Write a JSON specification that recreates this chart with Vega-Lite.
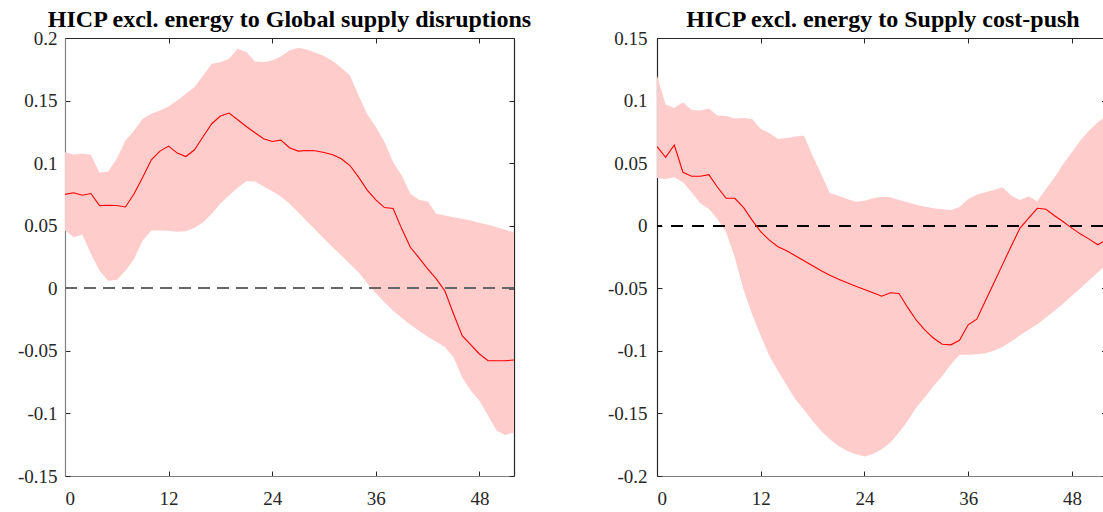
{
  "$schema": "https://vega.github.io/schema/vega-lite/v6.json",
  "autosize": {"type": "pad"},
  "padding": {"left": 17, "top": 8, "right": 0, "bottom": 0},
  "background": "white",
  "config": {
    "font": "Liberation Serif",
    "view": {"stroke": null},
    "axis": {
      "grid": false,
      "labelFont": "Liberation Serif",
      "labelFontSize": 19,
      "labelColor": "#262626",
      "tickColor": "#262626",
      "tickSize": -5,
      "tickWidth": 1,
      "domainWidth": 1.2
    }
  },
  "datasets": {
    "gsd": [
      {"t": 0, "med": 0.075, "lo": 0.0461, "hi": 0.1088},
      {"t": 1, "med": 0.0763, "lo": 0.0408, "hi": 0.1069},
      {"t": 2, "med": 0.0744, "lo": 0.0429, "hi": 0.1075},
      {"t": 3, "med": 0.0757, "lo": 0.0275, "hi": 0.1067},
      {"t": 4, "med": 0.0661, "lo": 0.0141, "hi": 0.0923},
      {"t": 5, "med": 0.0664, "lo": 0.0061, "hi": 0.0933},
      {"t": 6, "med": 0.0661, "lo": 0.0067, "hi": 0.1035},
      {"t": 7, "med": 0.065, "lo": 0.0141, "hi": 0.1181},
      {"t": 8, "med": 0.0755, "lo": 0.0235, "hi": 0.1261},
      {"t": 9, "med": 0.0888, "lo": 0.0381, "hi": 0.1355},
      {"t": 10, "med": 0.1027, "lo": 0.0461, "hi": 0.1395},
      {"t": 11, "med": 0.1096, "lo": 0.0461, "hi": 0.1421},
      {"t": 12, "med": 0.1136, "lo": 0.0459, "hi": 0.1453},
      {"t": 13, "med": 0.108, "lo": 0.0451, "hi": 0.1501},
      {"t": 14, "med": 0.1053, "lo": 0.0456, "hi": 0.1555},
      {"t": 15, "med": 0.1107, "lo": 0.0483, "hi": 0.1608},
      {"t": 16, "med": 0.1213, "lo": 0.0528, "hi": 0.1701},
      {"t": 17, "med": 0.1315, "lo": 0.0595, "hi": 0.1795},
      {"t": 18, "med": 0.1376, "lo": 0.0678, "hi": 0.1806},
      {"t": 19, "med": 0.14, "lo": 0.0741, "hi": 0.1835},
      {"t": 20, "med": 0.1347, "lo": 0.0803, "hi": 0.1915},
      {"t": 21, "med": 0.1293, "lo": 0.0856, "hi": 0.1888},
      {"t": 22, "med": 0.1243, "lo": 0.0853, "hi": 0.1813},
      {"t": 23, "med": 0.1195, "lo": 0.0813, "hi": 0.1808},
      {"t": 24, "med": 0.1173, "lo": 0.0776, "hi": 0.1821},
      {"t": 25, "med": 0.1184, "lo": 0.0733, "hi": 0.1853},
      {"t": 26, "med": 0.1123, "lo": 0.0675, "hi": 0.1901},
      {"t": 27, "med": 0.1096, "lo": 0.0608, "hi": 0.1923},
      {"t": 28, "med": 0.1101, "lo": 0.0536, "hi": 0.1909},
      {"t": 29, "med": 0.1099, "lo": 0.0467, "hi": 0.1883},
      {"t": 30, "med": 0.1085, "lo": 0.0395, "hi": 0.1856},
      {"t": 31, "med": 0.1067, "lo": 0.0328, "hi": 0.1816},
      {"t": 32, "med": 0.1035, "lo": 0.0261, "hi": 0.1763},
      {"t": 33, "med": 0.0981, "lo": 0.0195, "hi": 0.1701},
      {"t": 34, "med": 0.0888, "lo": 0.0128, "hi": 0.1541},
      {"t": 35, "med": 0.0785, "lo": 0.004, "hi": 0.139},
      {"t": 36, "med": 0.0707, "lo": -0.004, "hi": 0.1288},
      {"t": 37, "med": 0.0645, "lo": -0.0112, "hi": 0.1168},
      {"t": 38, "med": 0.0637, "lo": -0.0179, "hi": 0.1008},
      {"t": 39, "med": 0.0475, "lo": -0.0237, "hi": 0.0901},
      {"t": 40, "med": 0.0328, "lo": -0.0291, "hi": 0.0755},
      {"t": 41, "med": 0.0243, "lo": -0.0339, "hi": 0.0707},
      {"t": 42, "med": 0.0155, "lo": -0.0387, "hi": 0.0693},
      {"t": 43, "med": 0.0075, "lo": -0.0427, "hi": 0.0595},
      {"t": 44, "med": -0.0022, "lo": -0.0472, "hi": 0.0581},
      {"t": 45, "med": -0.0205, "lo": -0.0552, "hi": 0.0568},
      {"t": 46, "med": -0.0379, "lo": -0.0712, "hi": 0.0555},
      {"t": 47, "med": -0.0453, "lo": -0.0819, "hi": 0.0541},
      {"t": 48, "med": -0.0525, "lo": -0.0899, "hi": 0.0523},
      {"t": 49, "med": -0.0579, "lo": -0.1019, "hi": 0.0507},
      {"t": 50, "med": -0.0579, "lo": -0.1139, "hi": 0.0488},
      {"t": 51, "med": -0.0579, "lo": -0.1173, "hi": 0.0467},
      {"t": 52, "med": -0.0573, "lo": -0.1152, "hi": 0.0448}
    ],
    "scp": [
      {"t": 0, "med": 0.0632, "lo": 0.0381, "hi": 0.12},
      {"t": 1, "med": 0.0547, "lo": 0.0373, "hi": 0.0968},
      {"t": 2, "med": 0.0645, "lo": 0.0387, "hi": 0.0941},
      {"t": 3, "med": 0.0427, "lo": 0.0347, "hi": 0.0987},
      {"t": 4, "med": 0.0395, "lo": 0.0267, "hi": 0.0925},
      {"t": 5, "med": 0.0395, "lo": 0.0179, "hi": 0.092},
      {"t": 6, "med": 0.0408, "lo": 0.0133, "hi": 0.0936},
      {"t": 7, "med": 0.0307, "lo": 0.0053, "hi": 0.088},
      {"t": 8, "med": 0.0219, "lo": -0.0053, "hi": 0.0877},
      {"t": 9, "med": 0.0219, "lo": -0.0253, "hi": 0.0856},
      {"t": 10, "med": 0.0147, "lo": -0.0507, "hi": 0.0861},
      {"t": 11, "med": 0.0045, "lo": -0.0707, "hi": 0.0853},
      {"t": 12, "med": -0.0048, "lo": -0.088, "hi": 0.0773},
      {"t": 13, "med": -0.0115, "lo": -0.104, "hi": 0.0741},
      {"t": 14, "med": -0.0168, "lo": -0.116, "hi": 0.0693},
      {"t": 15, "med": -0.02, "lo": -0.1275, "hi": 0.0701},
      {"t": 16, "med": -0.024, "lo": -0.1387, "hi": 0.0712},
      {"t": 17, "med": -0.028, "lo": -0.147, "hi": 0.072},
      {"t": 18, "med": -0.032, "lo": -0.156, "hi": 0.056},
      {"t": 19, "med": -0.036, "lo": -0.164, "hi": 0.0413},
      {"t": 20, "med": -0.0395, "lo": -0.1707, "hi": 0.0259},
      {"t": 21, "med": -0.0427, "lo": -0.176, "hi": 0.024},
      {"t": 22, "med": -0.0456, "lo": -0.18, "hi": 0.0213},
      {"t": 23, "med": -0.0483, "lo": -0.1827, "hi": 0.0192},
      {"t": 24, "med": -0.0509, "lo": -0.1845, "hi": 0.02},
      {"t": 25, "med": -0.0536, "lo": -0.1825, "hi": 0.0219},
      {"t": 26, "med": -0.0563, "lo": -0.1787, "hi": 0.0232},
      {"t": 27, "med": -0.0536, "lo": -0.1733, "hi": 0.0227},
      {"t": 28, "med": -0.0541, "lo": -0.1653, "hi": 0.0205},
      {"t": 29, "med": -0.0653, "lo": -0.156, "hi": 0.0187},
      {"t": 30, "med": -0.0755, "lo": -0.1453, "hi": 0.0168},
      {"t": 31, "med": -0.0835, "lo": -0.137, "hi": 0.0152},
      {"t": 32, "med": -0.0899, "lo": -0.128, "hi": 0.0139},
      {"t": 33, "med": -0.0947, "lo": -0.12, "hi": 0.0131},
      {"t": 34, "med": -0.0952, "lo": -0.111, "hi": 0.0125},
      {"t": 35, "med": -0.0915, "lo": -0.1032, "hi": 0.015},
      {"t": 36, "med": -0.0792, "lo": -0.1032, "hi": 0.0213},
      {"t": 37, "med": -0.0747, "lo": -0.1027, "hi": 0.0248},
      {"t": 38, "med": -0.06, "lo": -0.1019, "hi": 0.0267},
      {"t": 39, "med": -0.0453, "lo": -0.1, "hi": 0.0285},
      {"t": 40, "med": -0.0307, "lo": -0.0968, "hi": 0.0307},
      {"t": 41, "med": -0.016, "lo": -0.0925, "hi": 0.024},
      {"t": 42, "med": -0.0019, "lo": -0.0875, "hi": 0.0205},
      {"t": 43, "med": 0.0061, "lo": -0.0832, "hi": 0.0235},
      {"t": 44, "med": 0.0139, "lo": -0.0787, "hi": 0.0195},
      {"t": 45, "med": 0.0131, "lo": -0.0733, "hi": 0.0293},
      {"t": 46, "med": 0.008, "lo": -0.068, "hi": 0.0387},
      {"t": 47, "med": 0.0032, "lo": -0.0621, "hi": 0.0493},
      {"t": 48, "med": -0.0019, "lo": -0.056, "hi": 0.0587},
      {"t": 49, "med": -0.0067, "lo": -0.0499, "hi": 0.068},
      {"t": 50, "med": -0.0107, "lo": -0.0435, "hi": 0.076},
      {"t": 51, "med": -0.0152, "lo": -0.0373, "hi": 0.0827},
      {"t": 52, "med": -0.011, "lo": -0.0307, "hi": 0.088}
    ]
  },
  "spacing": 143,
  "bounds": "flush",
  "hconcat": [
    {
      "width": 449,
      "height": 438,
      "title": {"text": "HICP excl. energy to Global supply disruptions", "font": "Liberation Serif", "fontSize": 24, "fontWeight": "bold", "color": "black", "anchor": "middle", "frame": "group", "offset": -3},
      "data": {"name": "gsd"},
      "resolve": {"axis": {"x": "independent", "y": "independent"}},
      "layer": [
        {
          "mark": {"type": "area", "color": "#ffcccc", "opacity": 1, "clip": true},
          "encoding": {
            "x": {"field": "t", "type": "quantitative", "scale": {"domain": [0, 52], "nice": false, "zero": false},
                  "axis": {"orient": "bottom", "title": null, "values": [0, 12, 24, 36, 48], "labelPadding": 18, "domainColor": "#808080", "labelExpr": "'' + datum.value"}},
            "y": {"field": "lo", "type": "quantitative", "scale": {"domain": [-0.15, 0.2], "nice": false, "zero": false},
                  "axis": {"orient": "left", "title": null, "values": [-0.15, -0.1, -0.05, 0, 0.05, 0.1, 0.15, 0.2], "labelPadding": 13, "domainColor": "#808080", "labelExpr": "'' + datum.value"}},
            "y2": {"field": "hi"}
          }
        },
        {
          "mark": {"type": "rule", "color": "#666666", "strokeWidth": 1.5, "strokeDash": [12, 7]},
          "encoding": {"y": {"datum": 0, "type": "quantitative", "axis": null}}
        },
        {
          "mark": {"type": "line", "color": "#ff0000", "strokeWidth": 1.1, "clip": true},
          "encoding": {
            "x": {"field": "t", "type": "quantitative", "axis": {"orient": "top", "title": null, "labels": false, "values": [0, 12, 24, 36, 48], "domainColor": "#262626"}},
            "y": {"field": "med", "type": "quantitative", "axis": {"orient": "right", "title": null, "labels": false, "values": [-0.15, -0.1, -0.05, 0, 0.05, 0.1, 0.15, 0.2], "domainColor": "#262626"}}
          }
        }
      ]
    },
    {
      "width": 446,
      "height": 438,
      "title": {"text": "HICP excl. energy to Supply cost-push", "font": "Liberation Serif", "fontSize": 24, "fontWeight": "bold", "color": "black", "anchor": "middle", "frame": "group", "offset": -3, "dx": 3},
      "data": {"name": "scp"},
      "resolve": {"axis": {"x": "independent", "y": "independent"}},
      "layer": [
        {
          "mark": {"type": "area", "color": "#ffcccc", "opacity": 1, "clip": true},
          "encoding": {
            "x": {"field": "t", "type": "quantitative", "scale": {"domain": [0, 51.6], "nice": false, "zero": false},
                  "axis": {"orient": "bottom", "title": null, "values": [0, 12, 24, 36, 48], "labelPadding": 18, "domainColor": "#808080", "labelExpr": "'' + datum.value"}},
            "y": {"field": "lo", "type": "quantitative", "scale": {"domain": [-0.2, 0.15], "nice": false, "zero": false},
                  "axis": {"orient": "left", "title": null, "values": [-0.2, -0.15, -0.1, -0.05, 0, 0.05, 0.1, 0.15], "labelPadding": 15, "domainColor": "#262626", "labelExpr": "'' + datum.value"}},
            "y2": {"field": "hi"}
          }
        },
        {
          "mark": {"type": "rule", "color": "#000000", "strokeWidth": 1, "strokeDash": [12, 9]},
          "encoding": {"y": {"datum": 0, "type": "quantitative", "axis": null}}
        },
        {
          "mark": {"type": "line", "color": "#ff0000", "strokeWidth": 1.1, "clip": true},
          "encoding": {
            "x": {"field": "t", "type": "quantitative", "axis": {"orient": "top", "title": null, "labels": false, "values": [0, 12, 24, 36, 48], "domainColor": "#262626"}},
            "y": {"field": "med", "type": "quantitative", "axis": {"orient": "right", "title": null, "labels": false, "domain": false, "tickSize": -1.5, "values": [-0.2, -0.15, -0.1, -0.05, 0, 0.05, 0.1, 0.15]}}
          }
        }
      ]
    }
  ]
}
